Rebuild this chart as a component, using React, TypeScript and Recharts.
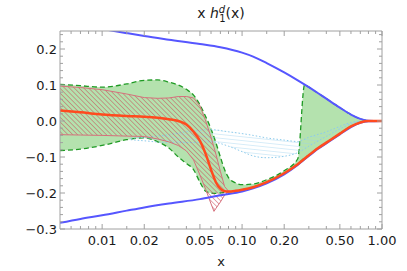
import React from 'react';
import { ComposedChart, Area, Line, XAxis, YAxis } from 'recharts';

// axis ticks
const xMajor = [0.01, 0.02, 0.05, 0.1, 0.2, 0.5, 1];
const xMajorLabels = ['0.01', '0.02', '0.05', '0.10', '0.20', '0.50', '1.00'];
const xMinor = [0.006, 0.007, 0.008, 0.009, 0.015, 0.03, 0.04, 0.06, 0.07, 0.08, 0.09, 0.15, 0.3, 0.4, 0.6, 0.7, 0.8, 0.9];
const yMajor = [-0.3, -0.2, -0.1, 0, 0.1, 0.2];
const yMajorLabels = ['−0.3', '−0.2', '−0.1', '0.0', '0.1', '0.2'];
const yMinor = [-0.28, -0.26, -0.24, -0.22, -0.18, -0.16, -0.14, -0.12, -0.08, -0.06, -0.04, -0.02,
  0.02, 0.04, 0.06, 0.08, 0.12, 0.14, 0.16, 0.18, 0.22, 0.24];

// green band (dashed edges)
const greenX = [0.005, 0.007, 0.01, 0.015, 0.02, 0.025, 0.03, 0.035, 0.04, 0.045, 0.05, 0.055, 0.06, 0.065, 0.07, 0.075, 0.08, 0.09, 0.1, 0.12, 0.15, 0.2, 0.25, 0.28, 0.3, 0.35, 0.4, 0.5, 0.6, 0.7, 0.8, 1.0];
const greenHigh = [0.102, 0.098, 0.094, 0.103, 0.113, 0.114, 0.108, 0.1, 0.088, 0.072, 0.045, 0.012, -0.022, -0.06, -0.1, -0.135, -0.157, -0.172, -0.177, -0.175, -0.163, -0.138, -0.105, 0.101, 0.094, 0.077, 0.062, 0.037, 0.018, 0.006, 0.001, 0];
const greenLow = [-0.082, -0.078, -0.068, -0.052, -0.047, -0.058, -0.075, -0.1, -0.118, -0.135, -0.17, -0.195, -0.2, -0.201, -0.2, -0.198, -0.197, -0.195, -0.191, -0.184, -0.17, -0.145, -0.12, -0.102, -0.095, -0.075, -0.06, -0.035, -0.015, -0.004, 0, 0];

// red hatched band
const redBandX = [0.005, 0.007, 0.01, 0.015, 0.02, 0.025, 0.03, 0.035, 0.04, 0.045, 0.05, 0.055, 0.06, 0.063, 0.065, 0.07, 0.075, 0.08];
const redHigh = [0.097, 0.093, 0.087, 0.075, 0.065, 0.063, 0.064, 0.068, 0.068, 0.064, 0.042, 0.0, -0.045, -0.073, -0.092, -0.14, -0.182, -0.195];
const redLow = [-0.038, -0.039, -0.04, -0.042, -0.043, -0.05, -0.058, -0.068, -0.083, -0.108, -0.15, -0.19, -0.23, -0.251, -0.243, -0.225, -0.206, -0.196];

// light blue hatched band
const cyanX = [0.016, 0.02, 0.03, 0.04, 0.06, 0.08, 0.1, 0.12, 0.15, 0.2, 0.25, 0.3, 0.4, 0.5, 0.6, 0.7];
const cyanHigh = [-0.048, -0.045, -0.038, -0.03, -0.024, -0.03, -0.035, -0.04, -0.047, -0.053, -0.057, -0.045, -0.03, -0.015, -0.004, 0];
const cyanLow = [-0.052, -0.055, -0.06, -0.06, -0.058, -0.07, -0.085, -0.097, -0.102, -0.098, -0.088, -0.07, -0.043, -0.022, -0.008, -0.001];

// central red curve
const redX = [0.005, 0.007, 0.01, 0.015, 0.02, 0.025, 0.03, 0.035, 0.04, 0.045, 0.05, 0.055, 0.06, 0.065, 0.07, 0.075, 0.08, 0.09, 0.1, 0.12, 0.15, 0.2, 0.25, 0.3, 0.35, 0.4, 0.5, 0.6, 0.7, 0.8, 1.0];
const redCentral = [0.029, 0.024, 0.018, 0.014, 0.012, 0.009, 0.005, 0.0, -0.01, -0.03, -0.055, -0.092, -0.135, -0.17, -0.188, -0.195, -0.196, -0.194, -0.191, -0.184, -0.17, -0.145, -0.12, -0.095, -0.075, -0.06, -0.035, -0.015, -0.004, 0, 0];

// blue bounds
const blueUpX = [0.011, 0.015, 0.02, 0.03, 0.05, 0.07, 0.1, 0.12, 0.15, 0.2, 0.25, 0.3, 0.35, 0.4, 0.5, 0.6, 0.7, 0.8, 1.0];
const blueUp = [0.253, 0.244, 0.236, 0.226, 0.214, 0.205, 0.19, 0.179, 0.161, 0.135, 0.113, 0.094, 0.077, 0.062, 0.037, 0.018, 0.006, 0.001, 0];
const blueLowX = [0.005, 0.007, 0.01, 0.015, 0.02, 0.03, 0.05, 0.07, 0.1, 0.12, 0.15, 0.2, 0.25, 0.3, 0.35, 0.4, 0.5, 0.6, 0.7, 0.8, 1.0];
const blueLow = [-0.283, -0.272, -0.262, -0.249, -0.24, -0.229, -0.217, -0.206, -0.196, -0.187, -0.173, -0.148, -0.122, -0.097, -0.077, -0.062, -0.037, -0.017, -0.005, -0.001, 0];

const greenData = greenX.map((x, i) => ({ x, band: [greenLow[i], greenHigh[i]] }));
const redBandData = redBandX.map((x, i) => ({ x, band: [redLow[i], redHigh[i]] }));
const cyanData = cyanX.map((x, i) => ({ x, band: [cyanLow[i], cyanHigh[i]] }));
const redData = redX.map((x, i) => ({ x, y: redCentral[i] }));
const blueUpData = blueUpX.map((x, i) => ({ x, y: blueUp[i] }));
const blueLowData = blueLowX.map((x, i) => ({ x, y: blueLow[i] }));

const FRAME = '#a0a0a0';
const TEXT = '#1a1a1a';
const FONT = '"DejaVu Sans", sans-serif';

const findIdx = (arr: number[], v: number) => arr.findIndex((a) => Math.abs(a - v) < 1e-9);

const BottomTick = ({ x, y, payload }: any) => {
  const i = findIdx(xMajor, payload.value);
  return (
    <g>
      <line x1={x} x2={x} y1={y} y2={y - (i >= 0 ? 5 : 3)} stroke={FRAME} />
      {i >= 0 && (
        <text x={x} y={y + 15.5} textAnchor="middle" fontSize={13} fontFamily={FONT} fill={TEXT}>
          {xMajorLabels[i]}
        </text>
      )}
    </g>
  );
};

const TopTick = ({ x, y, payload }: any) => {
  const major = findIdx(xMajor, payload.value) >= 0;
  return <line x1={x} x2={x} y1={y} y2={y + (major ? 5 : 3)} stroke={FRAME} />;
};

const LeftTick = ({ x, y, payload }: any) => {
  const i = findIdx(yMajor, payload.value);
  return (
    <g>
      <line x1={x} x2={x + (i >= 0 ? 5 : 3)} y1={y} y2={y} stroke={FRAME} />
      {i >= 0 && (
        <text x={x - 3} y={y + 5} textAnchor="end" fontSize={13} fontFamily={FONT} fill={TEXT}>
          {yMajorLabels[i]}
        </text>
      )}
    </g>
  );
};

const RightTick = ({ x, y, payload }: any) => {
  const major = findIdx(yMajor, payload.value) >= 0;
  return <line x1={x} x2={x - (major ? 5 : 3)} y1={y} y2={y} stroke={FRAME} />;
};

const xTicks = [...xMajor, ...xMinor].sort((a, b) => a - b);
const yTicks = [...yMajor, ...yMinor].sort((a, b) => a - b);

export default function App() {
  return (
    <div style={{ position: 'absolute', left: 0, top: 0, width: 407, height: 271, background: '#fff' }}>
      <svg width={407} height={30} style={{ position: 'absolute', left: 0, top: 0 }}>
        <text x={221} y={18} textAnchor="middle" fontSize={14} fontFamily={FONT} fill={TEXT}>
          x <tspan fontStyle="italic">h</tspan>
          <tspan fontSize={10} dy={-5.5} fontStyle="italic">d</tspan>
          <tspan fontSize={10} dx={-6} dy={9.5}>1</tspan>
          <tspan dy={-4}>(x)</tspan>
        </text>
      </svg>
      <ComposedChart width={407} height={271} margin={{ top: 30, right: 24, bottom: 41, left: 0 }}>
        <defs>
          <pattern id="redHatch" patternUnits="userSpaceOnUse" width={3.4} height={3.4} patternTransform="rotate(-45)">
            <line x1={0} y1={0} x2={0} y2={3.4} stroke="#c8404f" strokeWidth={0.9} />
          </pattern>
          <pattern id="cyanHatch" patternUnits="userSpaceOnUse" width={6} height={3.8} patternTransform="rotate(6)">
            <line x1={0} y1={0} x2={6} y2={0} stroke="#9cd2ef" strokeWidth={0.8} />
          </pattern>
        </defs>
        <XAxis
          dataKey="x"
          type="number"
          scale="log"
          domain={[0.005, 1]}
          allowDataOverflow
          ticks={xTicks}
          interval={0}
          tick={<BottomTick />}
          tickSize={0}
          tickMargin={0}
          tickLine={false}
          stroke={FRAME}
          height={1}
          label={{ value: 'x', position: 'bottom', offset: 27, fontSize: 13, fontFamily: FONT, fill: TEXT }}
        />
        <XAxis
          xAxisId="top"
          orientation="top"
          dataKey="x"
          type="number"
          scale="log"
          domain={[0.005, 1]}
          allowDataOverflow
          ticks={xTicks}
          interval={0}
          tick={<TopTick />}
          tickSize={0}
          tickMargin={0}
          tickLine={false}
          stroke={FRAME}
          height={1}
        />
        <YAxis
          type="number"
          domain={[-0.3, 0.25]}
          allowDataOverflow
          ticks={yTicks}
          interval={0}
          tick={<LeftTick />}
          tickSize={0}
          tickMargin={0}
          tickLine={false}
          stroke={FRAME}
          width={60}
        />
        <YAxis
          yAxisId="right"
          orientation="right"
          type="number"
          domain={[-0.3, 0.25]}
          allowDataOverflow
          ticks={yTicks}
          interval={0}
          tick={<RightTick />}
          tickSize={0}
          tickMargin={0}
          tickLine={false}
          stroke={FRAME}
          width={1}
        />
        <Area
          data={greenData}
          dataKey="band"
          type="monotone"
          fill="#b4e2ae"
          fillOpacity={1}
          stroke="#1f9a24"
          strokeWidth={1.3}
          strokeDasharray="5 3"
          isAnimationActive={false}
          activeDot={false}
        />
        <Area
          data={cyanData}
          dataKey="band"
          type="monotone"
          fill="url(#cyanHatch)"
          fillOpacity={1}
          stroke="#8ccbec"
          strokeWidth={1}
          strokeDasharray="1.5 2"
          isAnimationActive={false}
          activeDot={false}
        />
        <Area
          data={redBandData}
          dataKey="band"
          type="linear"
          fill="url(#redHatch)"
          fillOpacity={1}
          stroke="#d6707c"
          strokeWidth={1}
          isAnimationActive={false}
          activeDot={false}
        />
        <Line data={blueUpData} dataKey="y" type="monotone" stroke="#5656ff" strokeWidth={2} dot={false} activeDot={false} isAnimationActive={false} />
        <Line data={blueLowData} dataKey="y" type="monotone" stroke="#5656ff" strokeWidth={2} dot={false} activeDot={false} isAnimationActive={false} />
        <Line data={redData} dataKey="y" type="monotone" stroke="#ff4a1e" strokeWidth={2.5} dot={false} activeDot={false} isAnimationActive={false} />
      </ComposedChart>
    </div>
  );
}
